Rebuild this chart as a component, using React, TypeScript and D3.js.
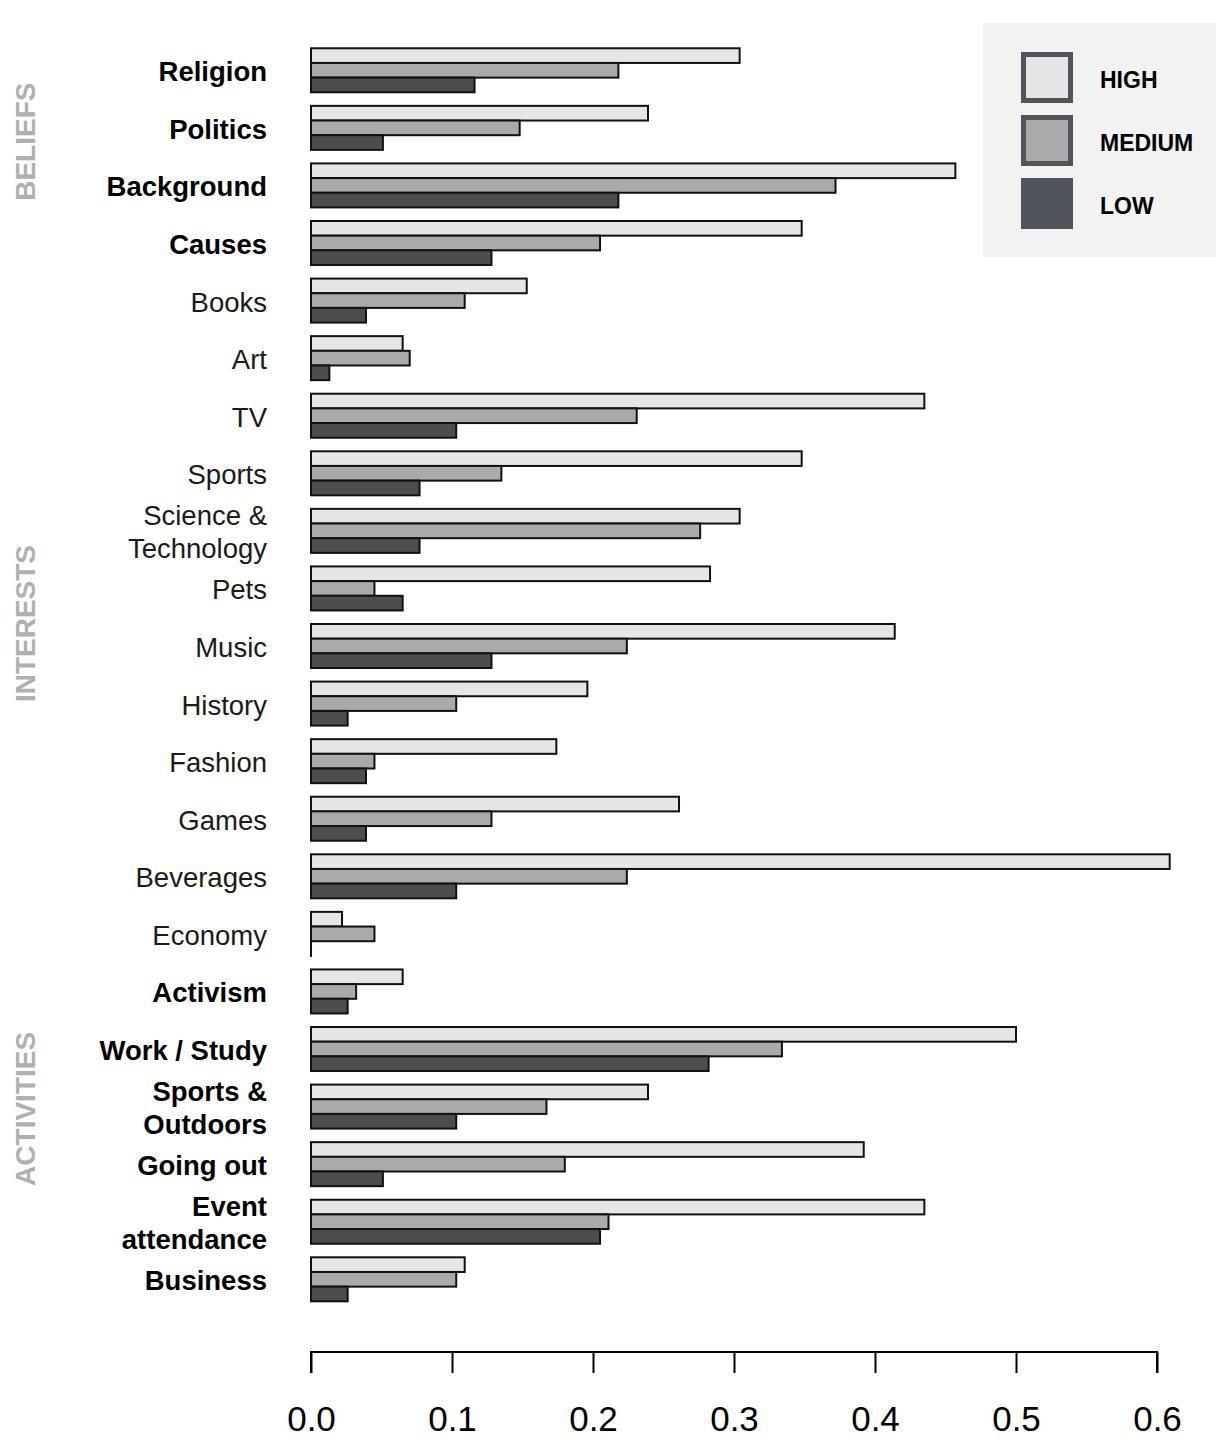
import React, { useRef, useEffect } from 'react'
import { select, scaleLinear, scaleBand, axisBottom } from 'd3'

const categories = [
  'Religion', 'Politics', 'Background', 'Causes', 'Books', 'Art', 'TV', 'Sports',
  'Science &\nTechnology', 'Pets', 'Music', 'History', 'Fashion', 'Games', 'Beverages',
  'Economy', 'Activism', 'Work / Study', 'Sports &\nOutdoors', 'Going out',
  'Event\nattendance', 'Business'
]
const boldCategories = [
  'Religion', 'Politics', 'Background', 'Causes', 'Activism', 'Work / Study',
  'Sports &\nOutdoors', 'Going out', 'Event\nattendance', 'Business'
]

const high = [0.304, 0.239, 0.457, 0.348, 0.153, 0.065, 0.435, 0.348, 0.304, 0.283, 0.414,
  0.196, 0.174, 0.261, 0.609, 0.022, 0.065, 0.500, 0.239, 0.392, 0.435, 0.109]
const medium = [0.218, 0.148, 0.372, 0.205, 0.109, 0.070, 0.231, 0.135, 0.276, 0.045, 0.224,
  0.103, 0.045, 0.128, 0.224, 0.045, 0.032, 0.334, 0.167, 0.180, 0.211, 0.103]
const low = [0.116, 0.051, 0.218, 0.128, 0.039, 0.013, 0.103, 0.077, 0.077, 0.065, 0.128,
  0.026, 0.039, 0.039, 0.103, 0.0, 0.026, 0.282, 0.103, 0.051, 0.205, 0.026]

const levels = ['HIGH', 'MEDIUM', 'LOW']
const levelFill = ['#e6e6e6', '#aaaaaa', '#4d4d4d']
const legendFill = ['#e6e6e6', '#aaaaaa', '#50555c']

const xTicks = [0, 0.1, 0.2, 0.3, 0.4, 0.5, 0.6]

// group label and the row position (in rows) it is centred on
const groups: [string, number][] = [
  ['BELIEFS', 1.24],
  ['INTERESTS', 9.61],
  ['ACTIVITIES', 18.04]
]

const font = '"Liberation Sans", Arial, Helvetica, sans-serif'

export default function App () {
  const ref = useRef<SVGSVGElement>(null)

  useEffect(() => {
    document.body.style.margin = '0'
    if (ref.current === null) return
    const svg = select(ref.current)
    svg.selectAll('*').remove()

    const x = scaleLinear().domain([0, 0.6]).range([311, 1157])
    const y = scaleBand<string>().domain(categories).range([41.5, 1308.1])
      .paddingInner(0.2357).paddingOuter(0.2357 / 2)
    const inner = scaleBand<string>().domain(levels).range([0, y.bandwidth()])

    const series = [high, medium, low]

    // bars
    const rows = svg.append('g').selectAll('g.row')
      .data(categories)
      .enter()
      .append('g')
      .attr('class', 'row')
      .attr('transform', (d) => `translate(0,${y(d)})`)

    levels.forEach((lv, k) => {
      rows.append('rect')
        .attr('x', x(0))
        .attr('y', inner(lv) as number)
        .attr('width', (_d, i) => Math.max(0.01, x(series[k][i]) - x(0)))
        .attr('height', inner.bandwidth())
        .attr('fill', levelFill[k])
        .attr('stroke', '#111')
        .attr('stroke-width', 2)
    })

    // category labels
    rows.each(function (d) {
      const lines = d.split('\n')
      const c = y.bandwidth() / 2
      const t = select(this).append('text')
        .attr('text-anchor', 'end')
        .attr('font-family', font)
        .attr('font-size', 27.5)
        .attr('font-weight', boldCategories.includes(d) ? 'bold' : 'normal')
        .attr('fill', boldCategories.includes(d) ? '#000' : '#1a1a1a')
      lines.forEach((ln, j) => {
        t.append('tspan')
          .attr('x', 267)
          .attr('y', c + 11 + (j - (lines.length - 1) / 2) * 33)
          .text(ln)
      })
    })

    // group labels
    const rowCentre = (pos: number) => (y(categories[0]) as number) + y.bandwidth() / 2 + pos * y.step()
    groups.forEach(([name, pos]) => {
      svg.append('text')
        .attr('transform', `translate(34.5,${rowCentre(pos)}) rotate(-90)`)
        .attr('text-anchor', 'middle')
        .attr('font-family', font)
        .attr('font-size', 28)
        .attr('font-weight', 'bold')
        .attr('fill', '#b0b0b0')
        .text(name)
    })

    // x axis
    const axisG = svg.append('g')
      .attr('transform', 'translate(0,1352)')
      .call(axisBottom(x).tickValues(xTicks).tickSize(21).tickPadding(33)
        .tickFormat((v) => (v as number).toFixed(1)))
    axisG.select('.domain').attr('stroke', '#000').attr('stroke-width', 2)
      .attr('d', `M${x(0)},21V0H${x(0.6)}V21`)
    axisG.selectAll('.tick line').attr('stroke', '#000').attr('stroke-width', 2)
    axisG.selectAll('.tick text')
      .attr('font-family', font)
      .attr('font-size', 35)
      .attr('fill', '#000')

    // legend
    const leg = svg.append('g')
    leg.append('rect')
      .attr('x', 983).attr('y', 23).attr('width', 233).attr('height', 234)
      .attr('fill', '#f2f2f2')
    levels.forEach((lv, k) => {
      const top = 52 + k * 63
      leg.append('rect')
        .attr('x', 1023.5).attr('y', top + 2.5).attr('width', 47).attr('height', 46)
        .attr('fill', legendFill[k])
        .attr('stroke', '#50555c')
        .attr('stroke-width', 5)
      leg.append('text')
        .attr('x', 1100).attr('y', top + 36)
        .attr('font-family', font)
        .attr('font-size', 23)
        .attr('font-weight', 'bold')
        .attr('fill', '#000')
        .text(lv)
    })
  }, [])

  return <svg ref={ref} width={1226} height={1450} style={{ display: 'block', background: '#fff' }} />
}
